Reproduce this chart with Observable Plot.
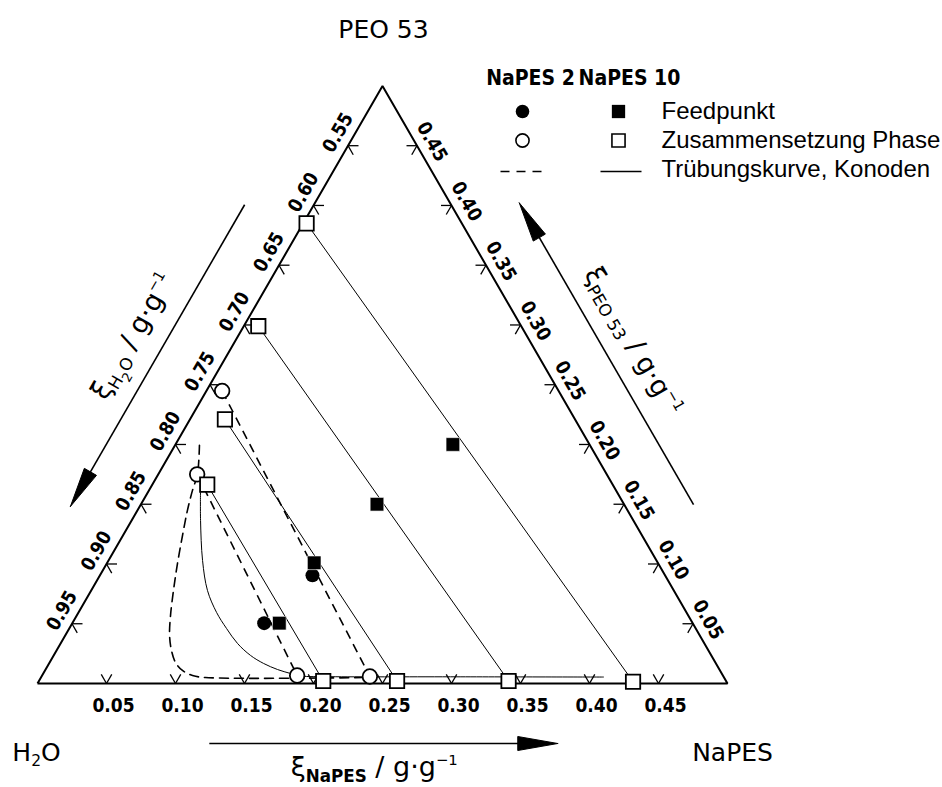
<!DOCTYPE html>
<html>
<head>
<meta charset="utf-8">
<script src="https://cdn.jsdelivr.net/npm/d3@7"></script>
<script src="https://cdn.jsdelivr.net/npm/@observablehq/plot@0.6"></script>
<style>
  html, body { margin: 0; padding: 0; background: #fff; }
  #chart svg { display: block; }
</style>
</head>
<body>
<div id="chart"></div>
<script>
// ---------------- data: mass fractions (H2O = 1 − NaPES − PEO 53) ----------------
const tickValues = [0.05, 0.10, 0.15, 0.20, 0.25, 0.30, 0.35, 0.40, 0.45];
const napesTickLabels = ["0.05", "0.10", "0.15", "0.20", "0.25", "0.30", "0.35", "0.40", "0.45"];
const h2oTickLabels   = ["0.95", "0.90", "0.85", "0.80", "0.75", "0.70", "0.65", "0.60", "0.55"];
const peoTickLabels   = ["0.05", "0.10", "0.15", "0.20", "0.25", "0.30", "0.35", "0.40", "0.45"];

// NaPES 10
const napes10FeedNaPES  = [0.201, 0.171, 0.150, 0.150];
const napes10FeedPEO    = [0.200, 0.150, 0.101, 0.0505];
const napes10PhaseNaPES = [0.0025, 0.0105, 0.0253, 0.0398, 0.2060, 0.2595, 0.3403, 0.4308];
const napes10PhasePEO   = [0.385, 0.299, 0.221, 0.1664, 0.0021, 0.0021, 0.0021, 0.0015];
const napes10TieLines   = [[0, 7], [1, 6], [2, 5], [3, 4]];
const napes10CloudNaPES = [0.0377, 0.0499, 0.0681, 0.0842, 0.1000, 0.1139, 0.1282, 0.1426, 0.1554, 0.1681, 0.1791, 0.1874, 0.2095, 0.2965, 0.4074];
const napes10CloudPEO   = [0.1608, 0.1365, 0.1030, 0.0779, 0.0595, 0.0461, 0.0335, 0.0235, 0.0168, 0.0117, 0.0084, 0.0063, 0.0057, 0.0056, 0.0054];

// NaPES 2
const napes2FeedNaPES  = [0.154, 0.139];
const napes2FeedPEO    = [0.0905, 0.0505];
const napes2PhaseNaPES = [0.0114, 0.0282, 0.1848, 0.2379];
const napes2PhasePEO   = [0.2448, 0.1750, 0.0067, 0.0059];
const napes2TieLines   = [[0, 3], [1, 2]];
const napes2CloudNaPES = [0.0177, 0.0284, 0.0315, 0.0362, 0.0431, 0.0512, 0.0596, 0.0679, 0.0756, 0.0833, 0.0912, 0.0996, 0.1090, 0.1192, 0.2352];
const napes2CloudPEO   = [0.1993, 0.1750, 0.1616, 0.1449, 0.1240, 0.1005, 0.0779, 0.0570, 0.0402, 0.0276, 0.0176, 0.0109, 0.0067, 0.0050, 0.0050];

// ---------------- ternary geometry ----------------
const S3 = Math.sqrt(3) / 2;
const EDGE_PX = 690;              // triangle edge length in px
const U = 0.5 / EDGE_PX;          // data units per px
const P = (a, b) => [a + b / 2, b * S3];   // (NaPES, PEO) -> cartesian
const corners = [P(0, 0), P(0.5, 0), P(0, 0.5)];
const edges = [
  {from: corners[0], to: corners[1], n: [0, -1]},
  {from: corners[1], to: corners[2], n: [S3, 0.5]},
  {from: corners[2], to: corners[0], n: [-S3, 0.5]}
];
function edgePt(i, f, off) {
  const e = edges[i];
  return [e.from[0] + f * (e.to[0] - e.from[0]) + off * U * e.n[0],
          e.from[1] + f * (e.to[1] - e.from[1]) + off * U * e.n[1]];
}
const pt = (a, b) => { const c = P(a, b); return {x: c[0], y: c[1]}; };
const fromPx = (px, py) => ({x: (px - 37) * U, y: (683 - py) * U});

const triangle = [...corners, corners[0]].map(c => ({x: c[0], y: c[1]}));

// tick chevrons (arms along the two other grid directions)
const arm = 10.5 * U;
const tickArms = [];
tickValues.forEach(v => {
  const b0 = P(v, 0), l0 = P(0, v), r0 = P(0.5 - v, v);
  [[b0, P(v, arm)], [b0, P(v - arm, arm)],
   [l0, P(arm, v)], [l0, P(arm, v - arm)],
   [r0, P(0.5 - v - arm, v)], [r0, P(0.5 - v, v - arm)]].forEach(([s, e]) =>
    tickArms.push({x1: s[0], y1: s[1], x2: e[0], y2: e[1]}));
});
const bottomTicks = tickValues.map((v, i) => ({...pt(v, 0), label: napesTickLabels[i]}));
const leftTicks   = tickValues.map((v, i) => ({...pt(0, v), label: h2oTickLabels[i]}));
const rightTicks  = tickValues.map((v, i) => ({...pt(0.5 - v, v), label: peoTickLabels[i]}));

// series
const mk = (as, bs) => as.map((a, i) => pt(a, bs[i]));
const n10Feed = mk(napes10FeedNaPES, napes10FeedPEO);
const n10Phase = mk(napes10PhaseNaPES, napes10PhasePEO);
const n10Cloud = mk(napes10CloudNaPES, napes10CloudPEO);
const n2Feed = mk(napes2FeedNaPES, napes2FeedPEO);
const n2Phase = mk(napes2PhaseNaPES, napes2PhasePEO);
const n2Cloud = mk(napes2CloudNaPES, napes2CloudPEO);
const ties = (phase, pairs) => pairs.map(([i, j]) => ({x1: phase[i].x, y1: phase[i].y, x2: phase[j].x, y2: phase[j].y}));

// axis arrows
const AR_OFF = 60, AR_F0 = 0.249, AR_F1 = 0.754, HEAD = 40, HALF = 7;
const arrowShafts = [0, 1, 2].map(i => {
  const a = edgePt(i, AR_F0, AR_OFF), b = edgePt(i, AR_F1 - (HEAD - 4) / EDGE_PX, AR_OFF);
  return {x1: a[0], y1: a[1], x2: b[0], y2: b[1]};
});
const arrowHeads = [0, 1, 2].flatMap(i => {
  const tip = edgePt(i, AR_F1, AR_OFF), bf = AR_F1 - HEAD / EDGE_PX;
  const b1 = edgePt(i, bf, AR_OFF - HALF), b2 = edgePt(i, bf, AR_OFF + HALF);
  return [tip, b1, b2, tip].map(p => ({x: p[0], y: p[1], k: i}));
});
const titleFor = (i, f, off, text, rotate) => { const p = edgePt(i, f, off); return {x: p[0], y: p[1], text, rotate}; };
const axisTitles = [
  titleFor(0, 0.488, 84, "ξ|_!NaPES|\u00A0/\u00A0g·g|^−1", 0),
  titleFor(1, 0.498, 89, "ξ|_PEO 53|\u00A0/\u00A0g·g|^−1", 60),
  titleFor(2, 0.495, 91, "ξ|_H|=2|_O|\u00A0/\u00A0g·g|^−1", -60)
];

const font = "DejaVu Sans";
const condFont = "'DejaVu Sans Condensed', 'DejaVu Sans', sans-serif";
const legendFont = "Liberation Sans, Arial, sans-serif";
const tickStyle = {fontSize: 19, fontWeight: "bold", fontFamily: condFont};

const chart = Plot.plot({
  width: 942, height: 787,
  marginLeft: 37, marginRight: 215, marginTop: 683 - EDGE_PX * S3, marginBottom: 104,
  x: {domain: [0, 0.5], axis: null},
  y: {domain: [0, 0.5 * S3], axis: null},
  style: {background: "white", overflow: "visible", fontFamily: font, color: "black"},
  marks: [
    // frame + ticks
    Plot.line(triangle, {x: "x", y: "y", stroke: "black", strokeWidth: 2, strokeLinejoin: "miter", strokeLinecap: "butt"}),
    Plot.link(tickArms, {x1: "x1", y1: "y1", x2: "x2", y2: "y2", stroke: "black", strokeWidth: 1.3}),
    Plot.text(bottomTicks, {x: "x", y: "y", text: "label", dx: 7, dy: 22, ...tickStyle}),
    Plot.text(leftTicks, {x: "x", y: "y", text: "label", dx: -10, dy: -13, rotate: -60, ...tickStyle}),
    Plot.text(rightTicks, {x: "x", y: "y", text: "label", dx: 15, dy: -4, rotate: 60, ...tickStyle}),

    // tie lines and cloud-point curves
    Plot.link(ties(n10Phase, napes10TieLines), {x1: "x1", y1: "y1", x2: "x2", y2: "y2", stroke: "black", strokeWidth: 1}),
    Plot.link(ties(n2Phase, napes2TieLines), {x1: "x1", y1: "y1", x2: "x2", y2: "y2", stroke: "black", strokeWidth: 1.6, strokeDasharray: "9,6"}),
    Plot.line(n10Cloud, {x: "x", y: "y", curve: "catmull-rom", stroke: "black", strokeWidth: 1}),
    Plot.line(n2Cloud, {x: "x", y: "y", curve: "catmull-rom", stroke: "black", strokeWidth: 1.6, strokeDasharray: "9,6"}),

    // markers
    Plot.dot(n2Feed, {x: "x", y: "y", symbol: "circle", r: 7, fill: "black", stroke: "none"}),
    Plot.dot(n2Phase, {x: "x", y: "y", symbol: "circle", r: 7.3, fill: "white", stroke: "black", strokeWidth: 1.8}),
    Plot.dot(n10Feed, {x: "x", y: "y", symbol: "square", r: 7.7, fill: "black", stroke: "white", strokeWidth: 0.6}),
    Plot.dot(n10Phase, {x: "x", y: "y", symbol: "square", r: 8.1, fill: "white", stroke: "black", strokeWidth: 1.8}),

    // axis arrows + titles
    Plot.link(arrowShafts, {x1: "x1", y1: "y1", x2: "x2", y2: "y2", stroke: "black", strokeWidth: 1.6}),
    Plot.line(arrowHeads, {x: "x", y: "y", z: "k", fill: "black", stroke: "black", strokeWidth: 1}),
    Plot.text(axisTitles, {x: "x", y: "y", text: "text", rotate: "rotate", fontSize: 27, fontFamily: font}),

    // corner labels
    Plot.text([fromPx(383, 29)], {x: "x", y: "y", text: () => "PEO 53", fontSize: 25, fontFamily: font}),
    Plot.text([fromPx(36, 752)], {x: "x", y: "y", text: () => "H|_2|O", fontSize: 25, fontFamily: font}),
    Plot.text([fromPx(732, 752)], {x: "x", y: "y", text: () => "NaPES", fontSize: 25, fontFamily: font}),

    // legend
    Plot.text([fromPx(530, 78)], {x: "x", y: "y", text: () => "NaPES 2", fontSize: 21, fontWeight: "bold", fontFamily: condFont}),
    Plot.text([fromPx(629, 78)], {x: "x", y: "y", text: () => "NaPES 10", fontSize: 21, fontWeight: "bold", fontFamily: condFont}),
    Plot.dot([fromPx(522, 111)], {x: "x", y: "y", symbol: "circle", r: 6.8, fill: "black"}),
    Plot.dot([fromPx(618, 111)], {x: "x", y: "y", symbol: "square", r: 7.5, fill: "black"}),
    Plot.dot([fromPx(522, 140)], {x: "x", y: "y", symbol: "circle", r: 6.6, fill: "white", stroke: "black", strokeWidth: 1.6}),
    Plot.dot([fromPx(618, 140)], {x: "x", y: "y", symbol: "square", r: 7.4, fill: "white", stroke: "black", strokeWidth: 1.6}),
    Plot.link([{a: fromPx(500, 171), b: fromPx(541, 171)}], {x1: d => d.a.x, y1: d => d.a.y, x2: d => d.b.x, y2: d => d.b.y, stroke: "black", strokeWidth: 1.4, strokeDasharray: "9,7"}),
    Plot.link([{a: fromPx(600, 171), b: fromPx(641, 171)}], {x1: d => d.a.x, y1: d => d.a.y, x2: d => d.b.x, y2: d => d.b.y, stroke: "black", strokeWidth: 1.4}),
    Plot.text([fromPx(661, 111), fromPx(661, 140), fromPx(661, 169)].map((p, i) => ({...p, t: ["Feedpunkt", "Zusammensetzung Phase", "Trübungskurve, Konoden"][i]})),
      {x: "x", y: "y", text: "t", textAnchor: "start", fontSize: 24, fontFamily: legendFont})
  ]
});

document.getElementById("chart").appendChild(chart);

// rich text: "|" separated segments; "_" subscript, "=" second-level subscript, "^" superscript, "!" bold
chart.querySelectorAll("text").forEach(node => {
  const raw = node.textContent;
  if (!raw.includes("|")) return;
  const base = parseFloat(getComputedStyle(node).fontSize) || 25;
  while (node.firstChild) node.removeChild(node.firstChild);
  let cur = 0;
  for (let seg of raw.split("|")) {
    let shift = 0, size = base, bold = false;
    if (seg.startsWith("=")) { shift = 0.42 * base; size = 0.48 * base; seg = seg.slice(1); }
    else if (seg.startsWith("_")) { shift = 0.2 * base; size = 0.62 * base; seg = seg.slice(1); }
    else if (seg.startsWith("^")) { shift = -0.42 * base; size = 0.55 * base; seg = seg.slice(1); }
    if (seg.startsWith("!")) { bold = true; seg = seg.slice(1); }
    const ts = document.createElementNS("http://www.w3.org/2000/svg", "tspan");
    ts.setAttribute("dy", (shift - cur).toFixed(2));
    ts.setAttribute("font-size", size.toFixed(2));
    if (bold) ts.setAttribute("font-weight", "bold");
    ts.textContent = seg;
    node.appendChild(ts);
    cur = shift;
  }
});
</script>
</body>
</html>
